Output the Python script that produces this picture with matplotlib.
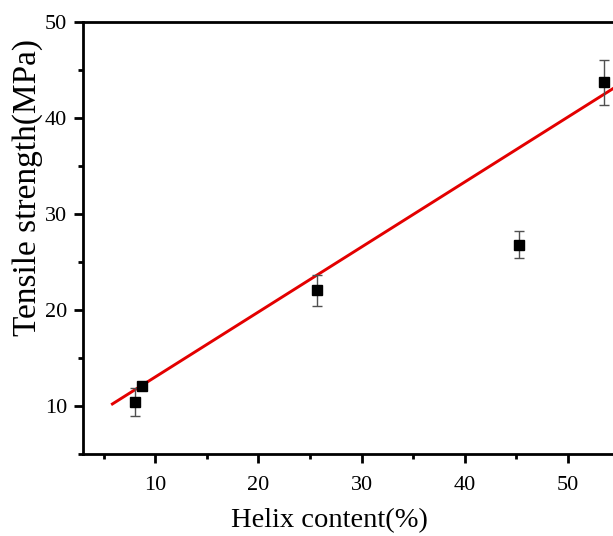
import matplotlib
matplotlib.use("Agg")
import matplotlib.pyplot as plt
import numpy as np
from matplotlib.ticker import MultipleLocator

helix = [8.06, 8.74, 25.7, 45.25, 53.5]
strength = [10.4, 12.1, 22.05, 26.8, 43.7]
strength_err = [1.45, 0.3, 1.6, 1.4, 2.35]
fit_slope = 0.677
fit_intercept = 6.25
fit_range = [5.85, 56.0]

plt.rcParams['font.family'] = ['Liberation Serif', 'DejaVu Serif']

fig = plt.figure(figsize=(6.13, 5.36), dpi=100)
ax = fig.add_axes([0.1354, 0.153, 0.892, 0.806])

fx = np.array(fit_range)
ax.plot(fx, fit_slope * fx + fit_intercept, color='#e30000', lw=2.1, zorder=2)
ax.errorbar(helix, strength, yerr=strength_err, fmt='s', color='black',
            ms=7, ecolor='#505050', elinewidth=1.0, capsize=3.6, capthick=1.0, zorder=3)

ax.set_xlim(3, 56)
ax.set_ylim(5, 50)
ax.xaxis.set_major_locator(MultipleLocator(10))
ax.xaxis.set_minor_locator(MultipleLocator(5))
ax.yaxis.set_major_locator(MultipleLocator(10))
ax.yaxis.set_minor_locator(MultipleLocator(5))
ax.tick_params(which='major', direction='out', length=6.5, width=2, labelsize=16, pad=5)
ax.tick_params(axis='x', which='major', pad=9)
ax.tick_params(which='minor', direction='out', length=3.6, width=2)
for s in ax.spines.values():
    s.set_linewidth(2)
ax.spines['right'].set_visible(False)

ax.set_xlabel('Helix content(%)', fontsize=20.5, labelpad=10)
ax.xaxis.label.set_x(0.45)
ax.set_ylabel('Tensile strength(MPa)', fontsize=24, labelpad=1)
ax.yaxis.label.set_y(0.618)

fig.savefig('out.png', dpi=100)
